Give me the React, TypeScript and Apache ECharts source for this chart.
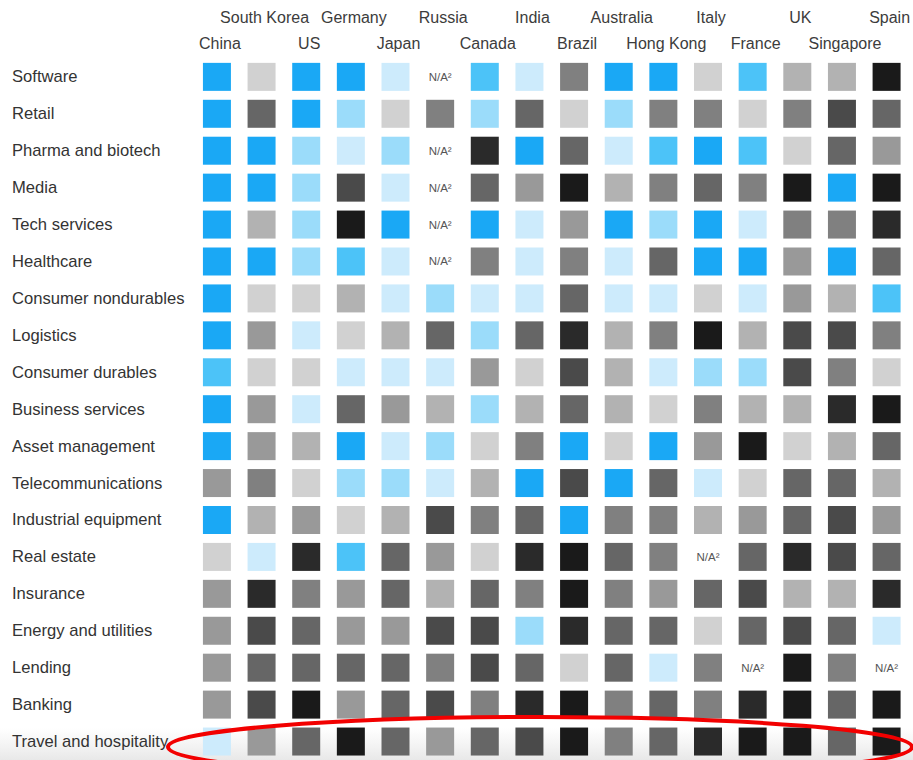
import React, { useEffect, useRef } from "react";
import * as echarts from "echarts";

// Column headers (countries), drawn in two staggered rows
const countries = [
  "China", "South Korea", "US", "Germany", "Japan", "Russia", "Canada", "India",
  "Brazil", "Australia", "Hong Kong", "Italy", "France", "UK", "Singapore", "Spain",
];

const industries = [
  "Software", "Retail", "Pharma and biotech", "Media", "Tech services", "Healthcare",
  "Consumer nondurables", "Logistics", "Consumer durables", "Business services",
  "Asset management", "Telecommunications", "Industrial equipment", "Real estate",
  "Insurance", "Energy and utilities", "Lending", "Banking", "Travel and hospitality",
];

// Shade level per cell: 1 = strongest blue ... 4 = palest blue, 5 = palest grey ... 12 = near black.
// null = not available.
const software = [1, 5, 1, 1, 4, null, 2, 4, 8, 1, 1, 5, 2, 6, 6, 12];
const retail = [1, 9, 1, 3, 5, 8, 3, 9, 5, 3, 8, 8, 5, 8, 10, 9];
const pharma = [1, 1, 3, 4, 3, null, 11, 1, 9, 4, 2, 1, 2, 5, 9, 7];
const media = [1, 1, 3, 10, 4, null, 9, 7, 12, 6, 8, 9, 8, 12, 1, 12];
const techServices = [1, 6, 3, 12, 1, null, 1, 4, 7, 1, 3, 1, 4, 8, 8, 11];
const healthcare = [1, 1, 3, 2, 4, null, 8, 4, 8, 4, 9, 1, 1, 7, 1, 9];
const consumerNondurables = [1, 5, 5, 6, 4, 3, 4, 4, 9, 4, 4, 5, 4, 7, 6, 2];
const logistics = [1, 7, 4, 5, 6, 9, 3, 9, 11, 6, 8, 12, 6, 10, 10, 8];
const consumerDurables = [2, 5, 5, 4, 4, 4, 7, 5, 10, 6, 4, 3, 3, 10, 8, 5];
const businessServices = [1, 7, 4, 9, 7, 6, 3, 6, 9, 6, 5, 8, 6, 6, 11, 12];
const assetManagement = [1, 7, 6, 1, 4, 3, 5, 8, 1, 5, 1, 7, 12, 5, 6, 9];
const telecom = [7, 8, 5, 3, 3, 4, 6, 1, 10, 1, 9, 4, 5, 9, 9, 6];
const industrialEquipment = [1, 6, 7, 5, 6, 10, 8, 9, 1, 8, 8, 6, 7, 9, 10, 7];
const realEstate = [5, 4, 11, 2, 9, 7, 5, 11, 12, 9, 8, null, 9, 11, 10, 9];
const insurance = [7, 11, 8, 7, 9, 6, 9, 8, 12, 8, 7, 9, 10, 6, 6, 11];
const energyUtilities = [7, 10, 9, 7, 7, 10, 10, 3, 11, 9, 9, 5, 9, 10, 9, 4];
const lending = [7, 9, 9, 9, 9, 8, 10, 9, 5, 9, 4, 8, null, 12, 8, null];
const banking = [7, 10, 12, 7, 9, 10, 8, 11, 12, 8, 9, 8, 11, 12, 9, 12];
const travel = [4, 7, 9, 12, 9, 7, 9, 10, 12, 8, 9, 11, 12, 12, 9, 12];

const rows = [
  software, retail, pharma, media, techServices, healthcare, consumerNondurables,
  logistics, consumerDurables, businessServices, assetManagement, telecom,
  industrialEquipment, realEstate, insurance, energyUtilities, lending, banking, travel,
];

const shadeColors = [
  "#1aa8f5", "#4cc3f8", "#9bdcfa", "#cdebfc",
  "#d1d1d1", "#b2b2b2", "#999999", "#808080",
  "#666666", "#4a4a4a", "#2a2a2a", "#1a1a1a",
];

const NA_LABEL = "N/A²";

export default function App() {
  const ref = useRef<HTMLDivElement>(null);

  useEffect(() => {
    if (!ref.current) return;
    const chart = echarts.init(ref.current, undefined, { renderer: "svg" });

    const cells: number[][] = [];
    const missing: number[][] = [];
    rows.forEach((row, y) =>
      row.forEach((v, x) => {
        if (v == null) missing.push([x, y]);
        else cells.push([x, y, v]);
      })
    );

    const font = "'Liberation Sans', Arial, sans-serif";

    chart.setOption({
      animation: false,
      backgroundColor: "#ffffff",
      textStyle: { fontFamily: font },
      grid: { left: 194.6, right: 2.6, top: 58.4, height: 707.2 },
      xAxis: {
        type: "category",
        data: countries,
        position: "top",
        axisLine: { show: false },
        axisTick: { show: false },
        splitLine: { show: false },
        axisLabel: {
          interval: 0,
          margin: 2,
          padding: [0, 0, 0, 6],
          color: "#3c3c3c",
          fontSize: 16,
          fontFamily: font,
          lineHeight: 26,
          formatter: (v: string, i: number) => (i % 2 === 1 ? `${v}\n ` : v),
        },
      },
      yAxis: {
        type: "category",
        data: industries,
        inverse: true,
        axisLine: { show: false },
        axisTick: { show: false },
        splitLine: { show: false },
        axisLabel: {
          interval: 0,
          align: "left",
          margin: 182.6,
          padding: [2, 0, 0, 0],
          color: "#333333",
          fontSize: 16.6,
          fontFamily: font,
        },
      },
      visualMap: {
        type: "piecewise",
        show: false,
        dimension: 2,
        seriesIndex: 0,
        pieces: shadeColors.map((color, i) => ({ value: i + 1, color })),
      },
      graphic: [
        {
          type: "rect",
          z: -10,
          silent: true,
          shape: { x: 0, y: 728, width: 913, height: 32 },
          style: {
            fill: new echarts.graphic.LinearGradient(0, 0, 0, 1, [
              { offset: 0, color: "rgba(235,235,235,0)" },
              { offset: 1, color: "rgba(232,232,232,1)" },
            ]),
          },
        },
        {
          type: "ellipse",
          z: 100,
          silent: true,
          shape: { cx: 540, cy: 747, rx: 372, ry: 30 },
          style: { fill: "none", stroke: "#f20000", lineWidth: 4 },
        },
      ],
      series: [
        {
          type: "scatter",
          symbol: "rect",
          symbolSize: 28,
          data: cells,
          itemStyle: { opacity: 1 },
        },
        {
          type: "scatter",
          symbolSize: 1,
          itemStyle: { color: "rgba(0,0,0,0)", opacity: 1 },
          data: missing,
          label: {
            show: true,
            position: "inside",
            formatter: NA_LABEL,
            color: "#555555",
            fontSize: 11.5,
            fontFamily: font,
          },
        },
      ],
    });

    return () => chart.dispose();
  }, []);

  return (
    <div
      ref={ref}
      style={{ position: "fixed", left: 0, top: 0, width: 913, height: 760 }}
    />
  );
}
